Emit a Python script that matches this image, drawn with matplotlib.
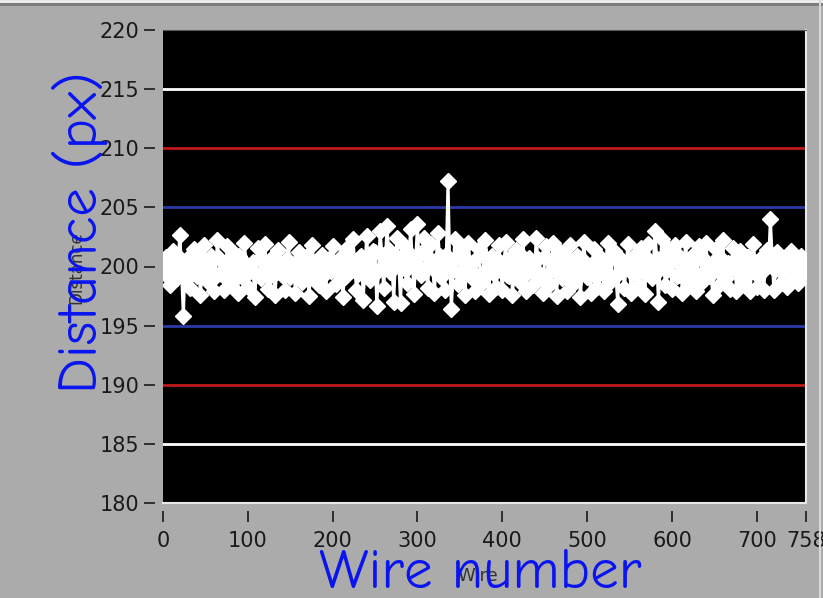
import matplotlib
matplotlib.use("Agg")
import matplotlib.pyplot as plt

# ---- data ----
# edge-of-band readings, every 4th wire from 0 to 756, then wire 758
distance = [
    199.6, 200.8, 198.4, 201.3, 199.0, 202.7, 195.8, 200.6, 198.2, 201.5,
    199.2, 197.6, 201.8, 198.8, 200.9, 197.9, 202.2, 199.4, 198.0, 201.7,
    198.6, 201.1, 197.8, 200.5, 202.0, 198.3, 199.8, 197.4, 201.6, 199.0,
    201.9, 198.1, 200.7, 197.6, 201.4, 199.3, 198.0, 202.1, 199.6, 197.8,
    201.2, 198.7, 200.3, 197.5, 201.8, 199.1, 198.4, 201.0, 197.9, 200.6,
    201.7, 198.5, 200.2, 197.4, 201.5, 199.6, 202.3, 198.0, 200.8, 197.2,
    202.6, 198.9, 201.3, 196.7, 203.0, 198.2, 203.4, 199.5, 197.0, 202.4,
    196.9, 201.8, 198.6, 203.2, 197.7, 203.6, 199.3, 202.4, 198.2, 201.9,
    197.8, 202.8, 199.1, 198.0, 207.2, 196.4, 202.3, 198.5, 201.6, 197.6,
    202.0, 199.0, 197.9, 201.5, 198.6, 202.2, 197.7, 200.9, 198.3, 201.8,
    198.0, 202.1, 199.2, 197.6, 201.4, 198.8, 202.3, 197.9, 200.7, 198.4,
    202.4, 199.0, 197.8, 201.7, 198.5, 202.0, 197.5, 201.2, 199.4, 197.9,
    201.8, 198.6, 200.9, 197.4, 202.1, 199.1, 197.8, 201.5, 198.3, 200.7,
    197.9, 202.0, 198.8, 201.3, 196.8, 200.6, 198.2, 201.9, 197.8, 200.8,
    198.4, 201.6, 197.7, 201.9, 199.0, 203.0, 197.0, 202.3, 198.4, 201.5,
    198.1, 201.8, 199.3, 197.8, 202.1, 198.6, 200.9, 197.9, 201.7, 198.8,
    202.0, 199.2, 197.6, 201.5, 198.4, 202.2, 199.0, 198.1, 201.6, 197.9,
    201.3, 198.6, 200.8, 197.9, 201.9, 198.3, 200.6, 198.0, 201.4, 204.0,
    198.0, 201.2, 198.6, 200.7, 198.3, 201.3, 199.0, 198.6, 200.9, 199.4,
    200.0,
]
wires = list(range(0, 757, 4)) + [758]

# centre-of-band readings at the wires in between (2, 6, ..., 754)
distance_mid = [
    200.2, 199.1, 200.6, 199.5, 200.9, 199.3, 200.1, 199.0, 200.4, 199.7,
    200.8, 199.4, 200.0, 199.8, 200.5, 199.2, 200.7, 199.6, 200.3, 199.1,
    200.6, 199.5, 200.9, 199.0, 200.2, 199.8, 200.4, 199.3, 200.7, 199.6,
    200.1, 199.2, 200.8, 199.5, 200.3, 199.9, 200.6, 199.1, 200.2, 199.7,
    200.5, 199.4, 200.9, 199.2, 200.0, 199.8, 200.7, 199.3, 200.4, 199.6,
    200.2, 199.5, 200.8, 199.1, 200.6, 199.9, 200.3, 199.4, 200.9, 199.7,
    200.5, 199.8, 201.2, 199.6, 201.0, 200.1, 201.4, 199.9, 200.6, 200.3,
    200.9, 199.7, 201.1, 200.2, 200.8, 199.9, 201.3, 200.0, 200.7, 199.8,
    200.5, 200.9, 199.6, 201.0, 200.2, 199.7, 200.8, 199.4, 200.6, 200.0,
    200.3, 199.5, 200.7, 199.2, 200.9, 199.8, 200.1, 199.4, 200.6, 199.9,
    200.4, 199.3, 200.8, 199.6, 200.2, 199.1, 200.7, 199.5, 200.0, 199.8,
    200.6, 199.2, 200.9, 199.4, 200.3, 199.7, 200.5, 199.0, 200.8, 199.6,
    200.1, 199.3, 200.7, 199.5, 200.4, 199.9, 200.2, 199.1, 200.6, 199.8,
    200.3, 199.4, 200.9, 199.2, 200.5, 199.7, 200.0, 199.6, 200.8, 199.3,
    200.4, 199.5, 200.7, 199.9, 200.2, 200.6, 199.8, 200.9, 199.7, 200.3,
    200.6, 199.2, 200.8, 199.5, 200.1, 199.7, 200.4, 199.3, 200.9, 199.6,
    200.2, 199.4, 200.5, 199.8, 200.7, 199.1, 200.3, 199.9, 200.6, 199.5,
    200.0, 199.3, 200.8, 199.6, 200.4, 199.2, 200.7, 199.8, 200.5, 201.0,
    199.7, 200.4, 199.5, 200.8, 199.9, 200.3, 199.6, 200.6, 200.1,
]
wires_mid = list(range(2, 755, 4))

white_levels = [215, 185]
red_levels = [210, 190]
blue_levels = [205, 195]
x_ticks = [0, 100, 200, 300, 400, 500, 600, 700, 758]
y_ticks = [180, 185, 190, 195, 200, 205, 210, 215, 220]

# merge both readings into one trace ordered by wire
trace = sorted(zip(wires + wires_mid, distance + distance_mid))
trace_x = [p[0] for p in trace]
trace_y = [p[1] for p in trace]

# ---- figure ----
plt.rcParams["font.family"] = ["DejaVu Sans"]
bg = "#ababab"
fig = plt.figure(figsize=(8.23, 5.98), dpi=100, facecolor=bg)
ax = fig.add_axes([163 / 823, 1 - 503 / 598, (806 - 163) / 823, (503 - 30) / 598])
ax.set_facecolor("black")

for y in white_levels:
    ax.axhline(y, color="white", lw=2, zorder=1)
for y in red_levels:
    ax.axhline(y, color="#c01818", lw=2, zorder=1)
for y in blue_levels:
    ax.axhline(y, color="#2a3aa8", lw=2, zorder=1)

ax.plot(trace_x, trace_y, color="white", lw=2.2, marker="D", markersize=8.5,
        markerfacecolor="white", markeredgecolor="white", zorder=3)

ax.set_xlim(0, 758)
ax.set_ylim(180, 220)
ax.set_xticks(x_ticks)
ax.set_yticks(y_ticks)
ax.set_xticklabels([str(t) for t in x_ticks])
ax.set_yticklabels([str(t) for t in y_ticks])
ax.tick_params(axis="both", direction="out", color="#1a1a1a", width=1.2, length=8,
               labelsize=15, labelcolor="#1a1a1a")
ax.tick_params(axis="y", pad=3)
ax.tick_params(axis="x", pad=6)

for side in ["left", "bottom"]:
    ax.spines[side].set_position(("outward", 6))
    ax.spines[side].set_visible(False)
ax.spines["top"].set_color("#555555")
ax.spines["right"].set_color("#e8e8e8")
ax.spines["right"].set_linewidth(1.5)

# bottom light frame line of the plot area
ax.plot([0, 1], [0, 0], transform=ax.transAxes, color="#e8e8e8", lw=1.5,
        clip_on=False, zorder=5)

# window borders
fig.add_artist(plt.Line2D([0, 1], [1 - 4 / 598, 1 - 4 / 598], color="#7a7a7a", lw=2))
fig.add_artist(plt.Line2D([0, 1], [1 - 1 / 598, 1 - 1 / 598], color="#f0f0f0", lw=2))
fig.add_artist(plt.Line2D([1 - 3 / 823, 1 - 3 / 823], [0, 1], color="#d8d8d8", lw=1.5))

# small original LabVIEW labels
fig.text(76 / 823, 1 - 268 / 598, "Distance", rotation=90, ha="center", va="center",
         fontsize=12, color="#333333")
fig.text(478 / 823, 1 - 576 / 598, "Wire", ha="center", va="center",
         fontsize=13, color="#333333")

# big blue annotated labels
label_font = ["Comic Neue", "Open Sans", "DejaVu Sans"]
fig.text(80 / 823, 1 - 232 / 598, "Distance (px)", rotation=90, ha="center",
         va="center", fontsize=41, color="#0a14f0", family=label_font)
fig.text(480 / 823, 1 - 574 / 598, "Wire number", ha="center", va="center",
         fontsize=41, color="#0a14f0", family=label_font)

fig.savefig("out.png", dpi=100, facecolor=bg)
